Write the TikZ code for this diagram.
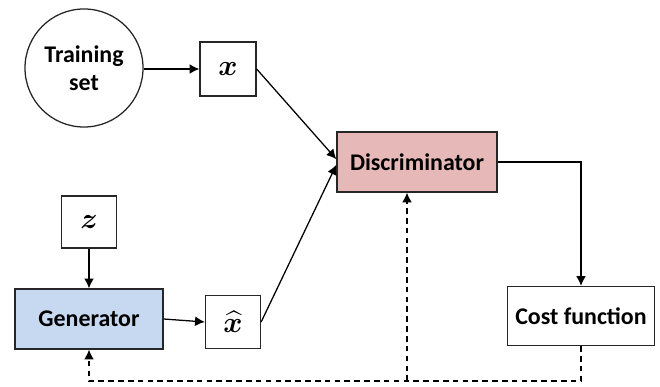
\documentclass[tikz,border=0pt]{standalone}
\usepackage{amsmath, amssymb}
\usepackage{bm}
\usepackage{fontspec}
\setmainfont{Carlito}
\usepackage{xcolor}
\usetikzlibrary{arrows.meta,calc,positioning,shapes}
\tikzstyle{line} = [draw, -{Latex[length=7pt,width=7pt]}]
\tikzstyle{dline} = [draw, dash pattern=on 4pt off 3pt, -{Latex[length=7pt,width=7pt]}]
\tikzstyle{vec} = [font=\boldmath\fontsize{20}{22}\selectfont]
\definecolor{discpink}{HTML}{E6B9B8}
\definecolor{genblue}{HTML}{C6D9F1}
\definecolor{edge}{HTML}{262626}

\begin{document}
\begin{tikzpicture}[x=0.025cm,y=-0.025cm,line width=0.9pt,font=\bfseries\fontsize{17}{20}\selectfont]
   		\useasboundingbox (0,0) rectangle (660,387); % frame of the picture
   		%\draw[help lines,step=20,dashed] (0,0) grid (660,387); % helper grid
   		\node (train) [draw=edge,circle,minimum size=2.95cm,align=center] at (84,68) {Training\\set}; % data source
   		\node (xbox) [draw=edge,vec,minimum width=1.4cm,minimum height=1.35cm] at (228,69) {$\bm{x}$}; % real sample
   		\node (disc) [draw=edge,fill=discpink,minimum width=4cm,minimum height=1.5cm] at (417,162) {Discriminator};
   		\node (zbox) [draw=edge,vec,minimum width=1.375cm,minimum height=1.3cm] at (89,222) {$\bm{z}$}; % noise
   		\node (gen) [draw=edge,fill=genblue,minimum width=3.7cm,minimum height=1.5cm] at (89,319) {Generator};
   		\node (xhat) [draw=edge,vec,minimum width=1.375cm,minimum height=1.325cm] at (233,322) {$\widehat{\bm{x}}$}; % fake sample
   		\node (cost) [draw=edge,minimum width=3.675cm,minimum height=1.475cm] at (581,316) {Cost function};
   		\coordinate (fb) at (581,381); % corner under cost function
   		\coordinate (fd) at (407,381); % branch to discriminator
   		\path[line] (train.east |- xbox) -- (xbox.west);
   		\path[line] (xbox.east) -- ([yshift=2pt]disc.west);
   		\path[line] (zbox.south) -- (gen.north);
   		\path[line] (gen.east) -- (xhat.west);
   		\path[line] (xhat.east) -- ([yshift=-2pt]disc.west);
   		\path[line] (disc.east) -| (cost.north);
   		\path[dline] (cost.south) -- (fb) -| (gen.south); % feedback to generator
   		\path[dline] (fd) -- (fd |- disc.south); % feedback to discriminator
\end{tikzpicture}
\end{document}
